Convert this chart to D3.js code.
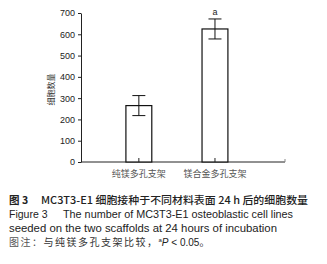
<!DOCTYPE html>
<html>
<head>
<meta charset="utf-8">
<script src="https://cdn.jsdelivr.net/npm/d3@7"></script>
<style>
  body { margin: 0; background: #fff; }
  svg { display: block; }
</style>
</head>
<body>
<div id="chart"></div>
<script>
// --- data ---
const categories = ['纯镁多孔支架', '镁合金多孔支架']
const means = [265, 625]
const errors = [47, 47]
const marks = ['', 'a']
const yTicks = [0, 100, 200, 300, 400, 500, 600, 700]

const width = 327
const height = 264
const cjk = '"Noto Sans CJK SC", "Noto Sans", sans-serif'
const latin = '"Liberation Sans", Arial, sans-serif'

const svg = d3.select('#chart').append('svg')
  .attr('width', width)
  .attr('height', height)

// x positions by category index, axis runs a bit past both sides
const x = d3.scaleLinear().domain([-0.76, 1.92]).range([81, 285])
const y = d3.scaleLinear().domain([0, 700]).range([162, 13])
const barW = x(0.34) - x(0)

// --- y axis ---
const yAxis = svg.append('g')
  .attr('transform', `translate(${x.range()[0]},0)`)
  .call(d3.axisLeft(y).tickValues(yTicks).tickSize(3).tickPadding(3).tickSizeOuter(0))
yAxis.select('.domain').attr('stroke', '#222')
yAxis.selectAll('line').attr('stroke', '#222')
yAxis.selectAll('text')
  .attr('font-family', latin)
  .attr('font-size', 9)
  .attr('fill', '#222')

svg.append('text')
  .attr('transform', `translate(54,${(y(700) + y(0)) / 2 + 2}) rotate(-90)`)
  .attr('text-anchor', 'middle')
  .attr('font-family', cjk)
  .attr('font-size', 8)
  .attr('fill', '#333')
  .text('细胞数量')

// --- x axis (ticks point up) ---
svg.append('line')
  .attr('x1', x.range()[0]).attr('x2', x.range()[1])
  .attr('y1', y(0)).attr('y2', y(0))
  .attr('stroke', '#222')
svg.append('line')
  .attr('x1', x.range()[1]).attr('x2', x.range()[1])
  .attr('y1', y(0)).attr('y2', y(0) - 3)
  .attr('stroke', '#888')

// --- bars ---
const bars = svg.append('g').selectAll('g')
  .data(categories)
  .join('g')

bars.append('rect')
  .attr('x', (d, i) => x(i) - barW / 2)
  .attr('y', (d, i) => y(means[i]))
  .attr('width', barW)
  .attr('height', (d, i) => y(0) - y(means[i]))
  .attr('fill', '#fff')
  .attr('stroke', '#111')
  .attr('stroke-width', 1.2)

bars.append('line')
  .attr('x1', (d, i) => x(i)).attr('x2', (d, i) => x(i))
  .attr('y1', y(0)).attr('y2', y(0) - 4)
  .attr('stroke', '#222')

// error bars
bars.append('line')
  .attr('x1', (d, i) => x(i)).attr('x2', (d, i) => x(i))
  .attr('y1', (d, i) => y(means[i] - errors[i]))
  .attr('y2', (d, i) => y(means[i] + errors[i]))
  .attr('stroke', '#111')
bars.selectAll('.cap')
  .data((d, i) => [[i, means[i] - errors[i]], [i, means[i] + errors[i]]])
  .join('line')
  .attr('class', 'cap')
  .attr('x1', d => x(d[0]) - 6.5).attr('x2', d => x(d[0]) + 6.5)
  .attr('y1', d => y(d[1])).attr('y2', d => y(d[1]))
  .attr('stroke', '#111')

bars.append('text')
  .attr('x', (d, i) => x(i))
  .attr('y', (d, i) => y(means[i] + errors[i]) - 4)
  .attr('text-anchor', 'middle')
  .attr('font-family', latin)
  .attr('font-size', 9)
  .attr('fill', '#222')
  .text((d, i) => marks[i])

bars.append('text')
  .attr('x', (d, i) => x(i))
  .attr('y', y(0) + 15)
  .attr('text-anchor', 'middle')
  .attr('font-family', cjk)
  .attr('font-size', 9)
  .attr('fill', '#555')
  .text(d => d)

// --- caption ---
const cap = svg.append('g').attr('fill', '#222')

const l1 = cap.append('text').attr('y', 204).attr('font-size', 10.5)
l1.append('tspan').attr('x', 9).attr('font-family', cjk).attr('font-weight', 'bold').text('图 3')
l1.append('tspan').attr('x', 41).attr('font-family', cjk).attr('font-weight', 500)
  .attr('textLength', 267).attr('lengthAdjust', 'spacingAndGlyphs')
  .text('MC3T3-E1 细胞接种于不同材料表面 24 h 后的细胞数量')

const l2 = cap.append('text').attr('y', 218).attr('font-size', 10.5).attr('font-family', latin)
l2.append('tspan').attr('x', 9).text('Figure 3')
l2.append('tspan').attr('x', 63)
  .attr('textLength', 230).attr('lengthAdjust', 'spacingAndGlyphs')
  .text('The number of MC3T3-E1 osteoblastic cell lines')

cap.append('text').attr('x', 9).attr('y', 232)
  .attr('font-size', 10.5).attr('font-family', latin)
  .attr('textLength', 268).attr('lengthAdjust', 'spacingAndGlyphs')
  .text('seeded on the two scaffolds at 24 hours of incubation')

const l4 = cap.append('text').attr('x', 9).attr('y', 246).attr('font-size', 10).attr('font-family', cjk)
l4.append('tspan').attr('fill', '#555').attr('letter-spacing', 1.5).text('图注：')
l4.append('tspan').attr('fill', '#333').attr('letter-spacing', 1.5).text('与纯镁多孔支架比较，')
l4.append('tspan').attr('font-family', latin).attr('font-size', 6).attr('dy', -4).text('a')
l4.append('tspan').attr('font-family', latin).attr('font-style', 'italic').attr('dy', 4).text('P')
l4.append('tspan').attr('font-family', latin).text(' < 0.05')
l4.append('tspan').text('。')
</script>
</body>
</html>
